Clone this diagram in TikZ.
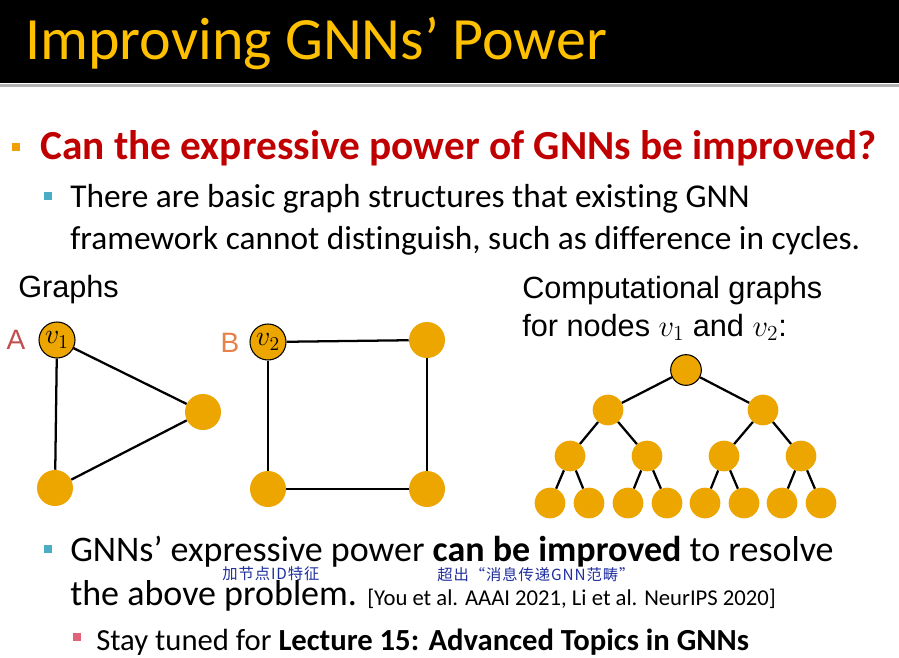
\documentclass[tikz,border=0pt]{standalone}
\usepackage{fix-cm}
\usepackage{fontspec}
\setmainfont[Ligatures=NoCommon]{Carlito}
\newfontfamily\arialfont{Liberation Sans}
\newfontfamily\cjk[LetterSpace=6]{Noto Sans CJK SC}
\usepackage{xcolor}
\usepackage{tikz}
\usetikzlibrary{positioning}

\definecolor{titlegold}{HTML}{FFC000}
\definecolor{darkred}{HTML}{C00000}
\definecolor{nodeorange}{HTML}{EDA500}
\definecolor{sqorange}{HTML}{F0A000}
\definecolor{sqblue}{HTML}{4BACC6}
\definecolor{sqpink}{HTML}{E0637A}
\definecolor{labelA}{HTML}{C0504D}
\definecolor{labelB}{HTML}{E8804A}
\definecolor{inkblue}{HTML}{1F2F9F}

\begin{document}
\begin{tikzpicture}[
    x=0.75pt, y=-0.75pt,
    vert/.style={circle, fill=nodeorange, minimum size=27pt, inner sep=0pt, font=\fontsize{21}{23}\selectfont},
    marked/.style={vert, draw=black, line width=0.8pt},
    tvert/.style={circle, fill=nodeorange, minimum size=23pt, inner sep=0pt},
    troot/.style={tvert, draw=black, line width=0.8pt},
    edge/.style={draw, line width=1.7pt},
    sq/.style={rectangle, minimum size=6pt, inner sep=0pt},
    txt/.style={anchor=base west, inner sep=0pt}
]
    \useasboundingbox (0,0) rectangle (899,657);
    \fill[white] (0,0) rectangle (899,657);

    % Title bar
    \fill[black] (0,0) rectangle (899,83);
    \draw[gray!60, line width=2pt] (0,85.5) -- (899,85.5);
    \node[txt, text=titlegold, font=\fontsize{45}{50}\selectfont] (title) at (25,59) {Improving GNNs’ Power};

    % Bullets
    \node[sq, fill=sqorange] (sq1) at (16,147) {};
    \node[txt, text=darkred, font=\fontsize{31}{36}\selectfont\bfseries] (q) at (40,159) {Can the expressive power of GNNs be improved?};
    \node[sq, fill=sqblue] (sq2) at (48,196) {};
    \node[txt, font=\fontsize{25}{30}\selectfont] (b2a) at (70,207) {There are basic graph structures that existing GNN};
    \node[txt, font=\fontsize{25}{30}\selectfont] (b2b) at (70,249) {framework cannot distinguish, such as difference in cycles.};

    % Graphs
    \node[txt, font=\arialfont\fontsize{23}{27}\selectfont] (glabel) at (18,297) {Graphs};
    \node[marked] (v1) at (57,340) {$v_1$};
    \node[vert] (a2) at (203,412) {};
    \node[vert] (a3) at (55,488) {};
    \node[text=labelA, font=\arialfont\fontsize{21}{24}\selectfont] (lA) at (16,340) {A};
    \draw[edge] (v1) -- (a2);
    \draw[edge] (v1) -- (a3);
    \draw[edge] (a2) -- (a3);

    \node[marked] (v2) at (268,342) {$v_2$};
    \node[vert] (b2) at (427,340) {};
    \node[vert] (b3) at (268,489) {};
    \node[vert] (b4) at (427,489) {};
    \node[text=labelB, font=\arialfont\fontsize{21}{24}\selectfont] (lB) at (230,343) {B};
    \draw[edge] (v2) -- (b2);
    \draw[edge] (b2) -- (b4);
    \draw[edge] (b4) -- (b3);
    \draw[edge] (b3) -- (v2);

    % Computational graph
    \node[txt, font=\arialfont\fontsize{23}{27}\selectfont] (clabel1) at (522,298) {Computational graphs};
    \node[txt, font=\arialfont\fontsize{23}{27}\selectfont] (clabel2) at (522,336) {for nodes $v_1$ and $v_2$:};
    \node[troot] (r) at (686,370) {};
    \node[tvert] (l1) at (608,410) {};
    \node[tvert] (l2) at (763,410) {};
    \foreach \i/\x/\p in {1/570/l1, 2/647/l1, 3/724/l2, 4/801/l2} {
        \node[tvert] (m\i) at (\x,456) {};
        \draw[edge] (\p) -- (m\i);
    }
    \foreach \i/\x/\p in {1/550/m1, 2/589/m1, 3/628/m2, 4/667/m2, 5/705/m3, 6/744/m3, 7/782/m4, 8/821/m4} {
        \node[tvert] (n\i) at (\x,503) {};
        \draw[edge] (\p) -- (n\i);
    }
    \draw[edge] (r) -- (l1);
    \draw[edge] (r) -- (l2);

    % Lower bullets
    \node[sq, fill=sqblue] (sq3) at (48,549) {};
    \node[txt, font=\fontsize{27}{32}\selectfont] (b3a) at (70,561) {GNNs’ expressive power \textbf{can be improved} to resolve};
    \node[txt, font=\fontsize{27}{32}\selectfont] (b3b) at (70,605) {the above problem.};
    \node[txt, font=\fontsize{17}{20}\selectfont] (cite) at (367,605) {[You et al. AAAI 2021, Li et al. NeurIPS 2020]};
    \node[txt, text=inkblue, font=\cjk\fontsize{11.5}{13}\selectfont] (note1) at (222,579) {加节点ID特征};
    \node[txt, text=inkblue, font=\cjk\fontsize{11.5}{13}\selectfont] (note2) at (437,580) {超出“消息传递GNN范畴”};
    \node[sq, fill=sqpink] (sq4) at (77,637) {};
    \node[txt, font=\fontsize{23}{27}\selectfont] (b4) at (96,650) {Stay tuned for \textbf{Lecture 15: Advanced Topics in GNNs}};

\end{tikzpicture}
\end{document}
